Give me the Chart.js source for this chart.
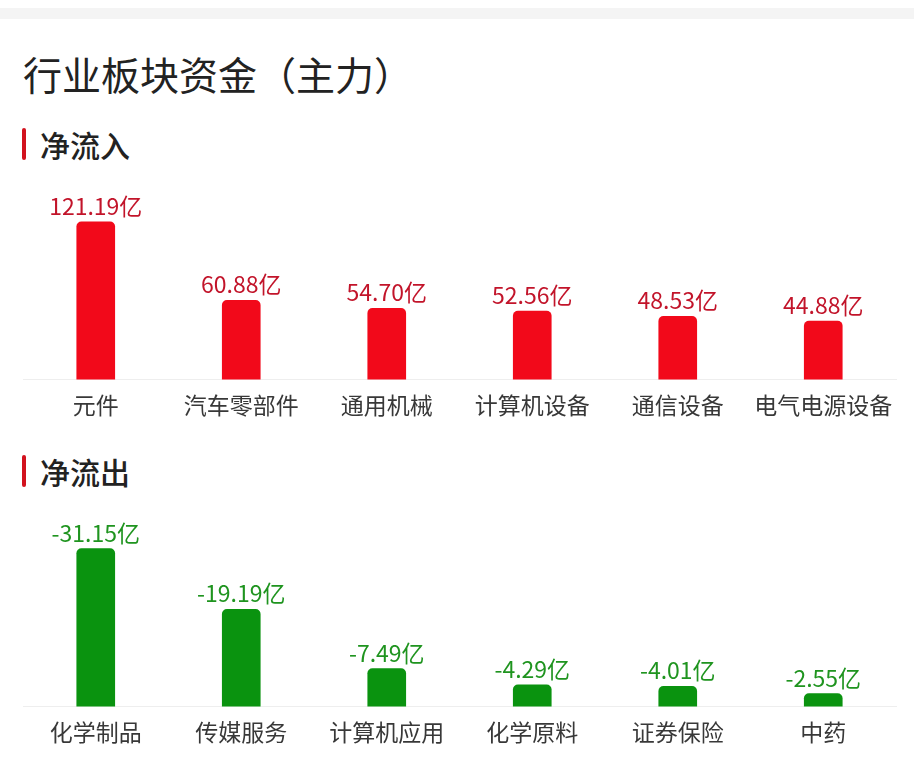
<!DOCTYPE html>
<html lang="zh">

<head>
    <meta charset="UTF-8">
    <title>行业板块资金（主力）</title>
    <script src="https://cdn.jsdelivr.net/npm/chart.js@4.4.0/dist/chart.umd.min.js"></script>
    <style>
        body { margin: 0; width: 914px; height: 773px; background: #fff; position: relative; overflow: hidden;
               font-family: "Noto Sans CJK SC", "Noto Sans", sans-serif; }
        .topbar { position: absolute; left: 0; top: 8px; width: 914px; height: 11px; background: #f4f4f4; }
        h1 { position: absolute; left: 23px; top: 47px; margin: 0; font-size: 39px; font-weight: 400; color: #222; line-height: 52px; }
        .sec { position: absolute; left: 40px; margin: 0; font-size: 30px; font-weight: 500; color: #222; line-height: 40px; }
        .mark { position: absolute; left: 22px; width: 4px; height: 32px; border-radius: 2px; background: #d2121e; }
        canvas { position: absolute; left: 0; }
    </style>
</head>

<body>
    <div class="topbar"></div>
    <h1>行业板块资金（主力）</h1>
    <div class="mark" style="top:128px"></div>
    <div class="sec" style="top:124px">净流入</div>
    <div class="mark" style="top:455px"></div>
    <div class="sec" style="top:451px">净流出</div>
    <canvas id="inChart" style="top:180px" width="914" height="254"></canvas>
    <canvas id="outChart" style="top:510px" width="914" height="254"></canvas>
    <script>
        // 净流入
        const inSectors = ['元件', '汽车零部件', '通用机械', '计算机设备', '通信设备', '电气电源设备'];
        const inValues = [121.19, 60.88, 54.70, 52.56, 48.53, 44.88];
        // 净流出
        const outSectors = ['化学制品', '传媒服务', '计算机应用', '化学原料', '证券保险', '中药'];
        const outValues = [-31.15, -19.19, -7.49, -4.29, -4.01, -2.55];

        // draws "xx.xx亿" above each bar
        const valueLabels = {
            id: 'valueLabels',
            afterDatasetsDraw(chart, args, opts) {
                const ctx = chart.ctx;
                const meta = chart.getDatasetMeta(0);
                ctx.save();
                ctx.font = '23px "Noto Sans CJK SC", sans-serif';
                ctx.fillStyle = opts.color;
                ctx.textAlign = 'center';
                ctx.textBaseline = 'alphabetic';
                meta.data.forEach(function (bar, i) {
                    ctx.fillText(opts.raw[i].toFixed(2) + '亿', bar.x, bar.y - 7);
                });
                ctx.restore();
            }
        };

        function makeChart(id, labels, values, barColor, textColor, yMax, padBottom) {
            return new Chart(document.getElementById(id), {
                type: 'bar',
                data: {
                    labels: labels,
                    datasets: [{
                        data: values.map(function (v) { return Math.abs(v); }),
                        backgroundColor: barColor,
                        barThickness: 38,
                        borderRadius: 5
                    }]
                },
                options: {
                    responsive: false,
                    animation: false,
                    layout: { padding: { left: 23, right: 18, top: 10, bottom: padBottom } },
                    plugins: {
                        legend: { display: false },
                        tooltip: { enabled: false },
                        valueLabels: { color: textColor, raw: values }
                    },
                    scales: {
                        x: {
                            grid: { display: false, drawTicks: false },
                            border: { display: true, color: '#eeeeee', width: 1 },
                            ticks: {
                                padding: 12,
                                color: '#383838',
                                font: { size: 23, family: '"Noto Sans CJK SC", sans-serif' }
                            }
                        },
                        y: { display: false, min: 0, max: yMax }
                    }
                },
                plugins: [valueLabels]
            });
        }

        makeChart('inChart', inSectors, inValues, '#f2091a', '#c2142a', 145.7, 2.8);
        makeChart('outChart', outSectors, outValues, '#0a930f', '#1f941f', 36.8, 5.8);
    </script>
</body>

</html>
